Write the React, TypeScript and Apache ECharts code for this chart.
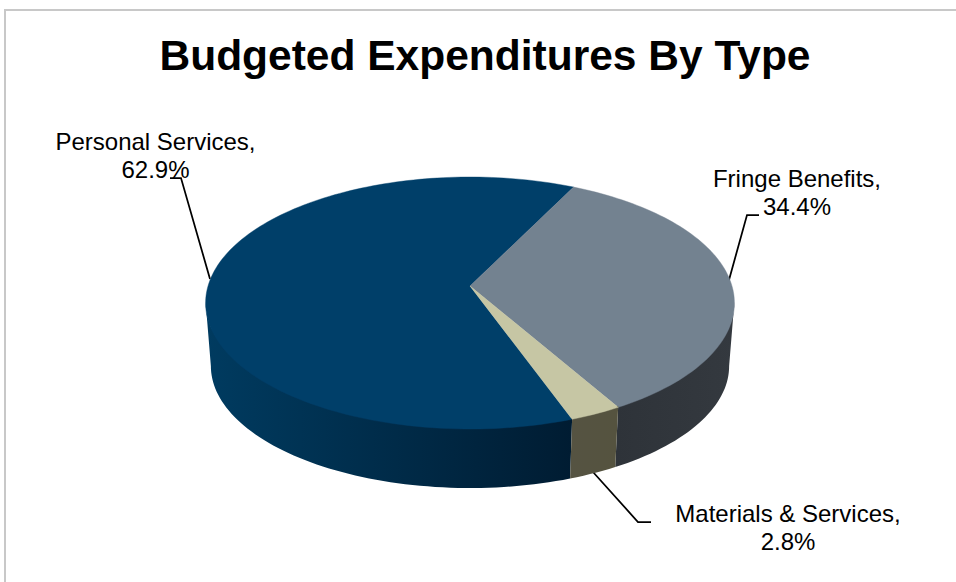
import React, { useEffect, useRef } from "react";
import * as echarts from "echarts";

const TITLE = "Budgeted Expenditures By Type";
const categories = ["Personal Services", "Fringe Benefits", "Materials & Services"];
const shares = [62.9, 34.4, 2.8];

const topColors = ["#003F69", "#738290", "#C6C6A4"];
const wallStops: [string, string][] = [
  ["#003B60", "#001C32"],
  ["#2E3339", "#34393F"],
  ["#555342", "#55533F"],
];
const labelAnchors = [
  { x: 155.5, y: 127 },
  { x: 797, y: 164 },
  { x: 788, y: 499 },
];
const leaderLines = [
  [[170, 178], [181, 178], [210, 279]],
  [[759, 215], [747, 215], [729, 280]],
  [[593, 472], [638, 522], [651, 522]],
];

const FIRST_ANGLE = 160.1;
const APEX = { x: 470, y: 286 };
const RADIUS = 262;
const PERSPECTIVE = -0.135;
const DEPTH_SCALE = 85.1;
const WALL_FROM = 97.76;
const WALL_TO = 262.24;
const WALL_TUCK = 1.5;
const SHELL = { cy: 303, bottomCy: 366, sx: 0.98, sy: 122 / 126 };

function rimPoint(deg: number): [number, number] {
  const t = (deg * Math.PI) / 180;
  const s = -Math.cos(t);
  const d = 1 + PERSPECTIVE * s;
  return [APEX.x + (RADIUS * Math.sin(t)) / d, (APEX.y + DEPTH_SCALE * s) / d];
}
function tuckedRimPoint(deg: number): [number, number] {
  const [x, y] = rimPoint(deg);
  return [x, y - WALL_TUCK];
}
function floorPoint(deg: number): [number, number] {
  const [x, y] = rimPoint(deg);
  return [APEX.x + (x - APEX.x) * SHELL.sx, SHELL.bottomCy + (y - SHELL.cy) * SHELL.sy];
}
function arc(from: number, to: number, fn: (d: number) => [number, number]) {
  const n = Math.max(2, Math.ceil(Math.abs(to - from) / 1.5));
  const pts: [number, number][] = [];
  for (let i = 0; i <= n; i++) pts.push(fn(from + ((to - from) * i) / n));
  return pts;
}

function sliceAngles(index: number, values: number[]) {
  const total = values.reduce((a, b) => a + b, 0);
  let start = FIRST_ANGLE;
  for (let i = 0; i < index; i++) start += (values[i] / total) * 360;
  return [start, start + (values[index] / total) * 360];
}

function wallPolygons(a0: number, a1: number) {
  const out: [number, number][][] = [];
  for (const shift of [0, 360]) {
    const lo = Math.max(a0, WALL_FROM + shift);
    const hi = Math.min(a1, WALL_TO + shift);
    if (hi > lo) out.push([...arc(lo, hi, tuckedRimPoint), ...arc(hi, lo, floorPoint)]);
  }
  return out;
}

export default function App() {
  const ref = useRef<HTMLDivElement>(null);
  useEffect(() => {
    const chart = echarts.init(ref.current!, undefined, { renderer: "svg" });
    const font = "Liberation Sans, Arial, sans-serif";
    chart.setOption({
      animation: false,
      backgroundColor: "#ffffff",
      title: {
        text: TITLE,
        left: 480,
        top: 29,
        textAlign: "center",
        textStyle: { fontFamily: font, fontSize: 42.5, fontWeight: "bold", color: "#000000" },
      },
      graphic: [
        {
          type: "polyline",
          silent: true,
          z: 0,
          shape: { points: [[5, 600], [5, 10], [975, 10]] },
          style: { stroke: "#C8C8C8", lineWidth: 2, fill: "none" },
        },
        ...leaderLines.map((points) => ({
          type: "polyline",
          silent: true,
          z: 1,
          shape: { points },
          style: { stroke: "#000000", lineWidth: 1.75, fill: "none" },
        })),
        ...categories.map((name, i) => ({
          type: "text",
          silent: true,
          z: 10,
          x: labelAnchors[i].x,
          y: labelAnchors[i].y,
          style: {
            text: `${name},\n${shares[i].toFixed(1)}%`,
            align: "center",
            verticalAlign: "top",
            fontFamily: font,
            fontSize: 24,
            lineHeight: 28,
            fill: "#000000",
          },
        })),
      ],
      series: [
        {
          type: "custom",
          coordinateSystem: "none",
          silent: true,
          z: 5,
          data: shares.map((value, i) => ({ name: categories[i], value })),
          renderItem: (params: any, api: any) => {
            const i = params.dataIndex;
            const values = shares.map((_, k) => (k === i ? api.value(0) : shares[k]));
            const [a0, a1] = sliceAngles(i, values);
            const walls = wallPolygons(a0, a1).map((points) => {
              const xs = points.map((p) => p[0]);
              const fill = new echarts.graphic.LinearGradient(
                Math.min(...xs),
                0,
                Math.max(...xs),
                0,
                [
                  { offset: 0, color: wallStops[i][0] },
                  { offset: 1, color: wallStops[i][1] },
                ],
                true
              );
              return {
                type: "polygon",
                shape: { points },
                style: { fill, stroke: "none", lineWidth: 0 },
              };
            });
            const top = {
              type: "polygon",
              shape: { points: [[APEX.x, APEX.y], ...arc(a0, a1, rimPoint)] },
              style: { fill: topColors[i], stroke: topColors[i], lineWidth: 0.4 },
            };
            return { type: "group", children: [...walls, top] };
          },
        },
      ],
    });
    return () => chart.dispose();
  }, []);
  return (
    <div
      ref={ref}
      style={{ position: "fixed", left: 0, top: 0, width: 956, height: 582, background: "#fff" }}
    />
  );
}
